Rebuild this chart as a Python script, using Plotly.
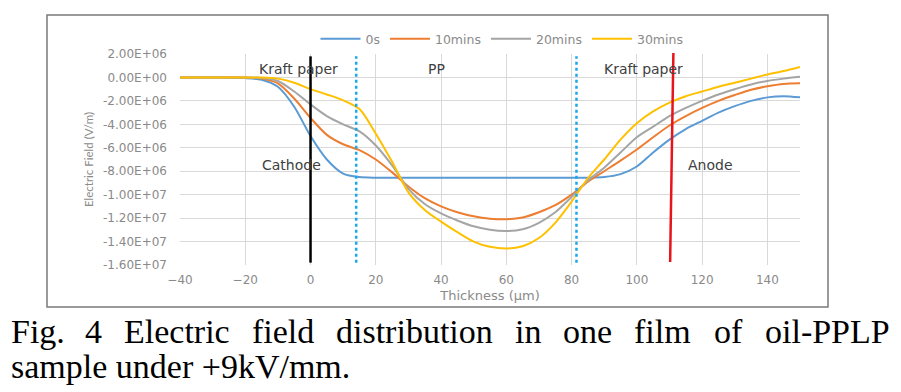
import plotly.graph_objects as go

# ---------------- data ----------------
thickness = [-40, -30, -20, -15, -10, -5, 0, 5, 10, 15, 20, 25, 30, 35, 40, 45, 50, 55, 60,
             65, 70, 75, 80, 85, 90, 95, 100, 105, 110, 115, 120, 125, 130, 135, 140, 145, 150]

series_names = ["0s", "10mins", "20mins", "30mins"]

field_0s = [0, 0, -0.05, -0.2, -0.8, -2.5, -5.0, -7.0, -8.2, -8.5, -8.55, -8.55, -8.55, -8.55,
            -8.55, -8.55, -8.55, -8.55, -8.55, -8.55, -8.55, -8.55, -8.55, -8.55, -8.5, -8.25,
            -7.6, -6.4, -5.3, -4.4, -3.7, -3.0, -2.45, -2.0, -1.7, -1.6, -1.7]
field_10 = [0, 0, 0, -0.1, -0.5, -1.8, -3.45, -4.9, -5.7, -6.2, -7.0, -8.1, -9.3, -10.3,
            -11.0, -11.5, -11.85, -12.05, -12.1, -11.95, -11.5, -10.9, -10.0, -8.9, -8.0, -7.1,
            -6.15, -5.1, -4.1, -3.3, -2.6, -2.0, -1.5, -1.05, -0.75, -0.55, -0.5]
field_20 = [0, 0, 0, -0.05, -0.3, -1.2, -2.3, -3.3, -4.0, -4.6, -5.8, -7.5, -9.5, -10.8,
            -11.6, -12.2, -12.7, -13.0, -13.1, -12.95, -12.4, -11.5, -10.2, -8.8, -7.7, -6.4,
            -5.1, -4.2, -3.3, -2.6, -2.0, -1.45, -1.0, -0.6, -0.3, -0.1, 0.05]
field_30 = [0, 0, 0, 0, -0.1, -0.45, -1.0, -1.45, -1.95, -2.7, -4.8, -7.2, -9.8, -11.3,
            -12.3, -13.2, -14.0, -14.45, -14.6, -14.4, -13.7, -12.4, -10.6, -8.6, -7.0, -5.3,
            -3.9, -2.9, -2.15, -1.6, -1.2, -0.8, -0.45, -0.1, 0.25, 0.55, 0.9]
field_unit = 1e6  # values above are in units of 1e6 V/m

series_colors = ["#5B9BD5", "#ED7D31", "#A5A5A5", "#FFC000"]

x_ticks = [-40, -20, 0, 20, 40, 60, 80, 100, 120, 140]
y_ticks = [2e6, 0, -2e6, -4e6, -6e6, -8e6, -1e7, -1.2e7, -1.4e7, -1.6e7]
y_tick_labels = ["2.00E+06", "0.00E+00", "-2.00E+06", "-4.00E+06", "-6.00E+06",
                 "-8.00E+06", "-1.00E+07", "-1.20E+07", "-1.40E+07", "-1.60E+07"]

cathode_x = 0
interface_x = [14, 81.5]
anode_x = [110.2, 111.2]

region_labels = ["Kraft paper", "PP", "Kraft paper", "Cathode", "Anode"]
region_label_x = [-3.7, 38.6, 102, -5.8, 122.6]
region_label_y = [0.7e6, 0.7e6, 0.7e6, -7.5e6, -7.5e6]

caption_line1 = ["Fig.", "4", "Electric", "field", "distribution", "in", "one", "film", "of", "oil-PPLP"]
caption_line2 = "sample under +9kV/mm."

# ---------------- layout geometry ----------------
# page body has an 8px margin: figure is placed at (8, 8) in the window
OFF = 8
W, H = 901 - OFF, 392 - OFF
SX0, SX1, SY0, SY1 = 180, 800, 54, 265          # plot area in window pixels
L, R, T, B = SX0 - OFF, W - (SX1 - OFF), SY0 - OFF, H - (SY1 - OFF)
PW, PH = SX1 - SX0, SY1 - SY0


def px(xs):
    return (xs - SX0) / PW


def py(ys):
    return (SY1 - ys) / PH


fig = go.Figure()
for name, vals, col in zip(series_names, [field_0s, field_10, field_20, field_30], series_colors):
    fig.add_trace(go.Scatter(
        x=thickness, y=[v * field_unit for v in vals], name=name, mode="lines",
        line=dict(color=col, width=2, shape="spline", smoothing=0.8)))

grey = "#8a8a8a"
tick_font = dict(family="DejaVu Sans", size=12, color=grey)

fig.update_layout(
    width=W, height=H, autosize=False,
    margin=dict(l=L, r=R, t=T, b=B, autoexpand=False),
    paper_bgcolor="white", plot_bgcolor="white",
    showlegend=True,
    legend=dict(orientation="h", x=px(502), y=py(39), xanchor="center", yanchor="middle",
                font=dict(family="DejaVu Sans", size=12.5, color=grey), itemwidth=40,
                bgcolor="rgba(0,0,0,0)"),
    xaxis=dict(range=[-40, 150], tickvals=x_ticks, showgrid=True, gridcolor="#d9d9d9",
               zeroline=False, showline=False, tickfont=tick_font, ticks="",
               ticklabelstandoff=6, automargin=False,
               title=dict(text="Thickness (μm)", font=dict(family="DejaVu Sans", size=13, color=grey),
                          standoff=4)),
    yaxis=dict(range=[-1.6e7, 2e6], tickvals=y_ticks, ticktext=y_tick_labels, showgrid=True,
               gridcolor="#d9d9d9", zeroline=False, showline=False, tickfont=tick_font, ticks="",
               ticklabelstandoff=12, automargin=False,
               title=dict(text="Electric Field (V/m)",
                          font=dict(family="Lato", size=11.5, color=grey),
                          standoff=7)),
)

shapes = []
# outer chart frame
shapes.append(dict(type="rect", xref="paper", yref="paper", x0=px(47), x1=px(828), y0=py(307), y1=py(15),
                   line=dict(color="#7a7a7a", width=1.5), layer="below"))
# cathode
shapes.append(dict(type="line", xref="x", yref="y", x0=cathode_x, x1=cathode_x, y0=-15.8e6, y1=1.8e6,
                   line=dict(color="black", width=2.5)))
# interfaces
for xi in interface_x:
    shapes.append(dict(type="line", xref="x", yref="y", x0=xi, x1=xi, y0=-15.8e6, y1=1.8e6,
                       line=dict(color="#19a9ea", width=2.5, dash="dot")))
# anode
shapes.append(dict(type="line", xref="x", yref="paper", x0=anode_x[0], x1=anode_x[1], y0=py(262), y1=py(53),
                   line=dict(color="#e8141c", width=2.5)))
fig.update_layout(shapes=shapes)

ann = []
for t, x, y in zip(region_labels, region_label_x, region_label_y):
    ann.append(dict(text=t, x=x, y=y, xref="x", yref="y", showarrow=False,
                    font=dict(family="DejaVu Sans", size=14, color="#404040")))

# justified caption, line 1 (word left edges in window pixels)
word_left_px = [9, 83, 122, 250, 334, 513, 561, 632, 712, 763]
cap_font = dict(family="Liberation Serif", size=34, color="black")
for w, xl in zip(caption_line1, word_left_px):
    ann.append(dict(text=w, x=px(xl), y=py(331), xref="paper", yref="paper", xanchor="left",
                    yanchor="middle", showarrow=False, font=cap_font))
ann.append(dict(text=caption_line2, x=px(9), y=py(366), xref="paper", yref="paper", xanchor="left",
                yanchor="middle", showarrow=False, font=cap_font))
fig.update_layout(annotations=ann)

fig.write_html("out.html")
